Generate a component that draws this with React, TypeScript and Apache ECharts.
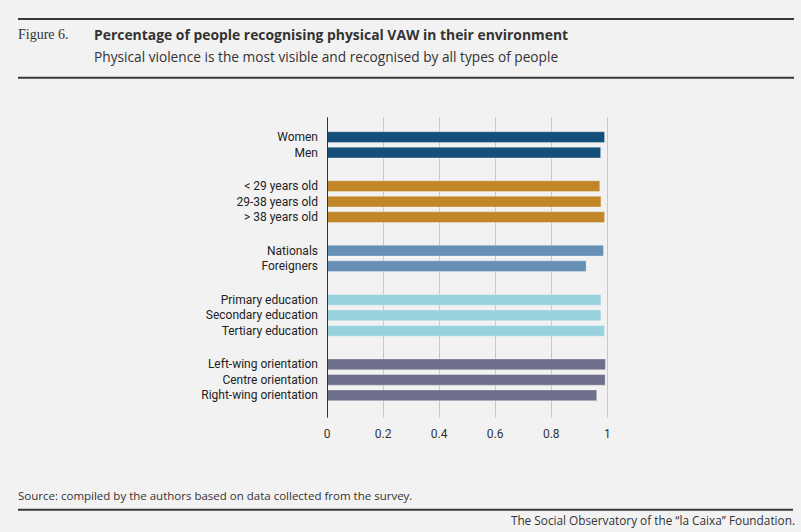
import React, { useEffect, useRef } from "react";
import * as echarts from "echarts";

// ---- data ----
const genderLabels = ["Women", "Men"];
const genderValues = [0.992, 0.978];
const ageLabels = ["< 29 years old", "29-38 years old", "> 38 years old"];
const ageValues = [0.975, 0.979, 0.992];
const originLabels = ["Nationals", "Foreigners"];
const originValues = [0.988, 0.926];
const eduLabels = ["Primary education", "Secondary education", "Tertiary education"];
const eduValues = [0.979, 0.979, 0.992];
const polLabels = ["Left-wing orientation", "Centre orientation", "Right-wing orientation"];
const polValues = [0.995, 0.994, 0.964];
const groupColors = ["#134f78", "#c08628", "#658fb5", "#98d2dc", "#6e6f8b"];
const xTicks = [0, 0.2, 0.4, 0.6, 0.8, 1];

const TITLE = "Percentage of people recognising physical VAW in their environment";
const SUBTITLE = "Physical violence is the most visible and recognised by all types of people";
const SOURCE = "Source: compiled by the authors based on data collected from the survey.";
const CREDIT = "The Social Observatory of the \u201cla Caixa\u201d Foundation.";

const BG = "#f2f2f2";
const FONT = 'Roboto, "Noto Sans", sans-serif';
const WIDE = '"Open Sans", Roboto, sans-serif';

export default function App() {
  const ref = useRef<HTMLDivElement>(null);

  useEffect(() => {
    document.body.style.margin = "0";
    document.body.style.background = BG;
    if (!ref.current) return;
    const chart = echarts.init(ref.current, undefined, { renderer: "svg" });

    const groups = [
      { labels: genderLabels, values: genderValues },
      { labels: ageLabels, values: ageValues },
      { labels: originLabels, values: originValues },
      { labels: eduLabels, values: eduValues },
      { labels: polLabels, values: polValues },
    ];
    // fine category slots: row step 6 slots, group gap 13 slots
    const TOTAL = 116;
    const START = 7;
    const ROW = 6;
    const GAP = 13;
    const cats: string[] = [];
    for (let i = 0; i < TOTAL; i++) cats.push("_" + i);
    const data: any[] = new Array(TOTAL).fill("-");
    let pos = START;
    groups.forEach((g, gi) => {
      g.labels.forEach((lab, k) => {
        cats[pos] = lab;
        data[pos] = { value: g.values[k], itemStyle: { color: groupColors[gi] } };
        if (k < g.labels.length - 1) pos += ROW;
      });
      pos += GAP;
    });

    const text = (t: string, x: number, y: number, font: string, align = "left", fill = "#333") => ({
      type: "text",
      x,
      y,
      silent: true,
      style: { text: t, font, fill, align, verticalAlign: "middle" },
    });
    const rule = (y: number, x2: number) => ({
      type: "line",
      silent: true,
      shape: { x1: 18, y1: y, x2, y2: y },
      style: { stroke: "#3b3733", lineWidth: 2 },
    });

    chart.setOption({
      animation: false,
      backgroundColor: BG,
      grid: { left: 327, right: 193.7, top: 117.7, bottom: 114.7, containLabel: false },
      xAxis: {
        type: "value",
        min: 0,
        max: 1,
        interval: 0.2,
        axisLine: { show: false },
        axisTick: { show: false },
        splitLine: { show: true, lineStyle: { color: "#c8c8c8", width: 1 } },
        axisLabel: {
          margin: 11,
          color: "#333",
          fontSize: 12,
          fontFamily: FONT,
          formatter: (v: number) => (xTicks.indexOf(v) >= 0 ? String(v) : ""),
        },
      },
      yAxis: {
        type: "category",
        inverse: true,
        data: cats,
        axisLine: { show: true, lineStyle: { color: "#333", width: 1 } },
        axisTick: { show: false },
        splitLine: { show: false },
        axisLabel: {
          interval: 0,
          margin: 9,
          color: "#222",
          fontSize: 12,
          fontFamily: FONT,
          formatter: (v: string) => (v.charAt(0) === "_" ? "" : v),
        },
        z: 5,
      },
      series: [
        {
          type: "bar",
          data,
          barWidth: 11.7,
          itemStyle: { borderColor: "rgba(255,255,255,0.3)", borderWidth: 1 },
          z: 2,
        },
      ],
      graphic: [
        rule(19, 794),
        rule(77.7, 794),
        rule(509.7, 793),
        text("Figure 6.", 18, 34.7, '14px "Liberation Serif", "DejaVu Serif", serif', "left", "#333"),
        text(TITLE, 94, 34.7, `bold 13.9px ${WIDE}`, "left", "#333"),
        text(SUBTITLE, 94, 56.6, `13.7px ${WIDE}`, "left", "#333"),
        text(SOURCE, 18, 495.5, `11.5px ${WIDE}`, "left", "#333"),
        text(CREDIT, 795, 520, `11.8px ${WIDE}`, "right", "#333"),
      ],
    });

    return () => chart.dispose();
  }, []);

  return <div ref={ref} style={{ width: 801, height: 532, background: BG }} />;
}
